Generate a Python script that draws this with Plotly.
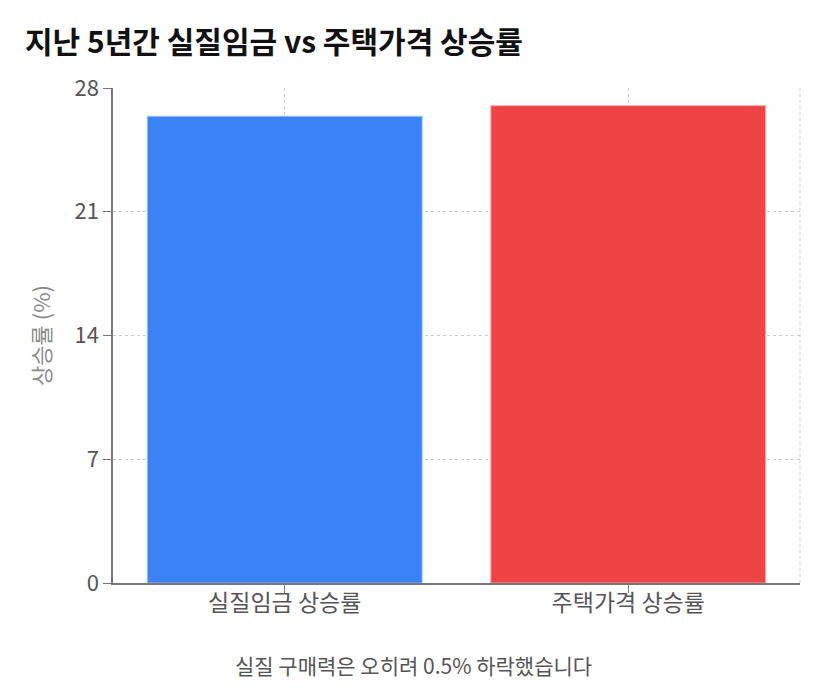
import plotly.graph_objects as go

categories = ["실질임금 상승률", "주택가격 상승률"]
values = [26.4, 27.0]
colors = ["#3B82F6", "#EF4444"]
y_ticks = [0, 7, 14, 21, 28]

FONT = "Noto Sans CJK KR, Noto Sans, sans-serif"

fig = go.Figure(go.Bar(
    x=categories, y=values,
    marker=dict(color=colors, line=dict(color=["rgba(147,197,253,0.8)", "rgba(252,165,165,0.9)"], width=1)),
    width=0.8,
))

fig.update_layout(
    width=828, height=699,
    margin=dict(l=105, r=36, t=80, b=124),
    paper_bgcolor="white", plot_bgcolor="white",
    font=dict(family=FONT, color="#555555"),
    title=dict(text="<b>지난 5년간 실질임금 vs 주택가격 상승률</b>", x=0.0205, xanchor="left",
               y=0.95, yanchor="middle", font=dict(size=30, color="#111111", family=FONT)),
    showlegend=False,
    bargap=0.2,
)
fig.update_xaxes(
    showline=True, linecolor="#777777", linewidth=1.5,
    ticks="outside", ticklen=8, tickcolor="#777777",
    showgrid=True, gridcolor="#cccccc", griddash="3px,3px", gridwidth=1,
    tickfont=dict(size=23, color="#555555"),
    ticklabelstandoff=-9,
)
fig.update_yaxes(
    range=[0, 28], tickvals=y_ticks,
    showline=True, linecolor="#777777", linewidth=1.5,
    ticks="outside", ticklen=8, tickcolor="#777777",
    showgrid=True, gridcolor="#cccccc", griddash="3px,3px", gridwidth=1,
    zeroline=False,
    tickfont=dict(size=22, color="#555555"),
    title=dict(text="상승률 (%)", font=dict(size=22, color="#8a8a8a"), standoff=18),
)
fig.add_shape(type="line", xref="paper", yref="paper", x0=1, x1=1, y0=0, y1=1,
              line=dict(color="#cccccc", width=1, dash="3px,3px"))
fig.add_annotation(text="실질 구매력은 오히려 0.5% 하락했습니다", xref="paper", yref="paper",
                   x=0.438, y=-0.166, yanchor="middle", showarrow=False,
                   font=dict(size=21, color="#555555", family=FONT))

fig.write_html("out.html")
